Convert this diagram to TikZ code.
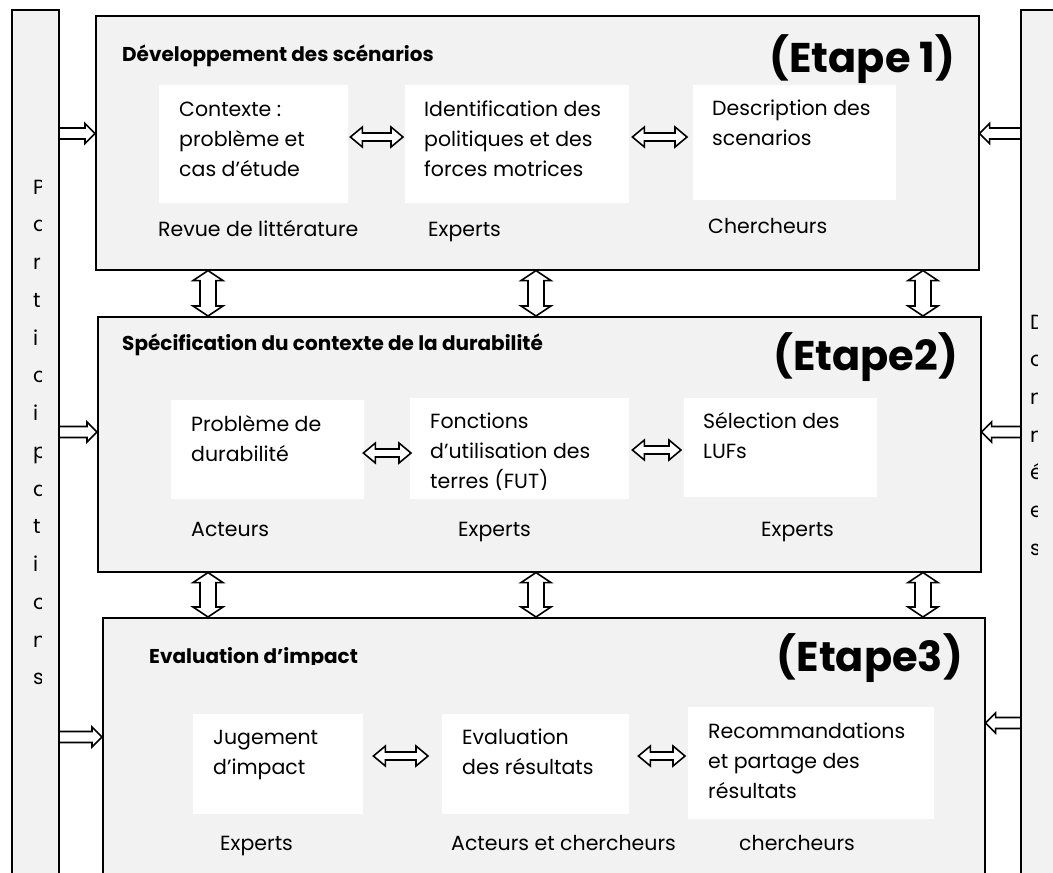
\documentclass[tikz,border=0pt]{standalone}
\usepackage{fontspec}
\setmainfont{Poppins}
\usetikzlibrary{calc}
\definecolor{panel}{HTML}{F2F2F2}

% several lines set one below the other; the first line carries the baseline
\newcommand\txtlines[1]{\vtop{\let\\\cr\halign{##\hfil\cr#1\crcr}}}

\begin{document}
\begin{tikzpicture}[x=1pt,y=-1pt,
  panelbox/.style={draw=black, line width=1.6pt, fill=panel, inner sep=0, anchor=north west},
  sidecol/.style={draw=black, line width=1.6pt, fill=panel, inner sep=0, anchor=north west},
  wbox/.style={fill=white, draw=none, inner sep=0, anchor=north west},
  body/.style={inner sep=0, anchor=base west, font=\fontsize{20.5}{30}\selectfont},
  title/.style={inner sep=0, anchor=base west, font=\fontsize{20}{24}\selectfont\bfseries},
  stage/.style={inner sep=0, anchor=base east, font=\fontsize{41.5}{44}\selectfont\bfseries},
  sidechar/.style={inner sep=0, anchor=base west, font=\fontsize{20.5}{24}\selectfont},
  blockline/.style={draw=black, line width=1.6pt, line join=miter},
  % hollow double arrow, left to right
  hdbl/.style={blockline, fill=white, to path={let \p1=(\tikztostart), \p2=(\tikztotarget) in
    (\x1,\y1) -- (\x1+12pt,\y1+10pt) -- (\x1+12pt,\y1+4pt) -- (\x2-12pt,\y1+4pt)
    -- (\x2-12pt,\y1+10pt) -- (\x2,\y1) -- (\x2-12pt,\y1-10pt) -- (\x2-12pt,\y1-4pt)
    -- (\x1+12pt,\y1-4pt) -- (\x1+12pt,\y1-10pt) -- cycle}},
  % hollow double arrow, top to bottom
  vdbl/.style={blockline, fill=white, to path={let \p1=(\tikztostart), \p2=(\tikztotarget) in
    (\x1,\y1) -- (\x1+15pt,\y1-10pt) -- (\x1+8pt,\y1-10pt) -- (\x1+8pt,\y2+10pt)
    -- (\x1+15pt,\y2+10pt) -- (\x1,\y2) -- (\x1-15pt,\y2+10pt) -- (\x1-8pt,\y2+10pt)
    -- (\x1-8pt,\y1-10pt) -- (\x1-15pt,\y1-10pt) -- cycle}},
  % hollow single arrow pointing right
  harrR/.style={blockline, to path={let \p1=(\tikztostart), \p2=(\tikztotarget) in
    (\x1,\y1+5.5pt) -- (\x2-10pt,\y1+5.5pt) -- (\x2-10pt,\y1+10pt) -- (\x2,\y1)
    -- (\x2-10pt,\y1-10pt) -- (\x2-10pt,\y1-5.5pt) -- (\x1,\y1-5.5pt)}},
  % hollow single arrow pointing left
  harrL/.style={blockline, to path={let \p1=(\tikztostart), \p2=(\tikztotarget) in
    (\x1,\y1+5.5pt) -- (\x2+10pt,\y1+5.5pt) -- (\x2+10pt,\y1+10pt) -- (\x2,\y1)
    -- (\x2+10pt,\y1-10pt) -- (\x2+10pt,\y1-5.5pt) -- (\x1,\y1-5.5pt)}}
]
\useasboundingbox (0,0) rectangle (1053,873);
\clip (0,0) rectangle (1053,873);
\fill[white] (0,0) rectangle (1053,873);

% side columns
\node[sidecol, minimum width=47pt, minimum height=900pt] (L) at (11,9) {};
\node[sidecol, minimum width=60pt, minimum height=900pt] (R) at (1020,9) {};

\begin{scope}
  \clip (11,9) rectangle (41,873);
  \foreach \ch [count=\i from 0] in {P,a,r,t,i,c,i,p,a,t,i,o,n,s}
    \node[sidechar] (pl\i) at (33,194+37.75*\i) {\ch};
\end{scope}
\begin{scope}
  \clip (1020,9) rectangle (1037.5,873);
  \foreach \ch [count=\i from 0] in {D,o,n,n,é,e,s}
    \node[sidechar] (dr\i) at (1030,329+37.7*\i) {\ch};
\end{scope}

% stage panels
\node[panelbox, minimum width=883pt, minimum height=254pt] (s1) at (95,15) {};
\node[panelbox, minimum width=883pt, minimum height=255pt] (s2) at (97,316) {};
\node[panelbox, minimum width=882pt, minimum height=320pt] (s3) at (102,617) {};

% stage 1
\node[title] (t1) at (122,61) {Développement des scénarios};
\node[stage] (e1) at (955,72) {(Etape 1)};
\node[wbox, minimum width=189pt, minimum height=118pt] (c11) at (159,85) {};
\node[wbox, minimum width=224pt, minimum height=118pt] (c12) at (405,85) {};
\node[wbox, minimum width=203pt, minimum height=115pt] (c13) at (693,85) {};
\node[body] (x11) at (179,116) {\txtlines{Contexte :\\problème et\\cas d’étude}};
\node[body] (x12) at (424,116) {\txtlines{Identification des\\politiques et des\\forces motrices}};
\node[body] (x13) at (712,115) {\txtlines{Description des\\scenarios}};
\node[body] (a11) at (158,236) {Revue de littérature};
\node[body] (a12) at (428,236) {Experts};
\node[body] (a13) at (708,233) {Chercheurs};

% stage 2
\node[title] (t2) at (122,350) {Spécification du contexte de la durabilité};
\node[stage] (e2) at (958,370) {(Etape2)};
\node[wbox, minimum width=193pt, minimum height=99pt] (c21) at (171,400) {};
\node[wbox, minimum width=219pt, minimum height=101pt] (c22) at (410,398) {};
\node[wbox, minimum width=193pt, minimum height=99pt] (c23) at (684,398) {};
\node[body] (x21) at (191,431) {\txtlines{Problème de\\durabilité}};
\begin{scope}
  \clip (405,380) rectangle (640,489);
  \node[body] (x22) at (430,428) {\txtlines{Fonctions\\d’utilisation des\\terres (FUT)}};
\end{scope}
\node[body] (x23) at (703,428) {\txtlines{Sélection des\\LUFs}};
\node[body] (a21) at (191,536) {Acteurs};
\node[body] (a22) at (458,536) {Experts};
\node[body] (a23) at (761,536) {Experts};

% stage 3
\begin{scope}
  \clip (120,630) rectangle (500,664);
  \node[title] (t3) at (149,663) {Evaluation d’impact};
\end{scope}
\node[stage] (e3) at (963,671) {(Etape3)};
\node[wbox, minimum width=170pt, minimum height=100pt] (c31) at (193,714) {};
\node[wbox, minimum width=187pt, minimum height=100pt] (c32) at (442,714) {};
\node[wbox, minimum width=246pt, minimum height=112pt] (c33) at (688,707) {};
\node[body] (x31) at (213,744) {\txtlines{Jugement\\d’impact}};
\node[body] (x32) at (462,744) {\txtlines{Evaluation\\des résultats}};
\node[body] (x33) at (708,738) {\txtlines{Recommandations\\et partage des\\résultats}};
\node[body] (a31) at (220,850) {Experts};
\node[body] (a32) at (451,850) {Acteurs et chercheurs};
\node[body] (a33) at (739,850) {chercheurs};

% levels of the connectors
\coordinate (r1) at (0,137);
\coordinate (r2a) at (0,453);
\coordinate (r2b) at (0,450);
\coordinate (r3) at (0,756);
\coordinate (v1) at (208,0);
\coordinate (v2) at (536,0);
\coordinate (v3) at (923,0);
\coordinate (lA) at (0,133.5);
\coordinate (lB) at (0,432);
\coordinate (lC) at (0,737);
\coordinate (rC) at (0,723);

% arrows inside the stages
\draw[hdbl] ($(c11.east |- r1)+(2,0)$) to ($(c12.west |- r1)+(-2,0)$);
\draw[hdbl] ($(c12.east |- r1)+(3,0)$) to ($(c13.west |- r1)+(-6,0)$);
\draw[hdbl] ($(c21.east |- r2a)+(-1,0)$) to ($(c22.west |- r2a)+(1,0)$);
\draw[hdbl] ($(c22.east |- r2b)+(3,0)$) to ($(c23.west |- r2b)+(-3,0)$);
\draw[hdbl] ($(c31.east |- r3)+(10,0)$) to ($(c32.west |- r3)+(-14,0)$);
\draw[hdbl] ($(c32.east |- r3)+(9,0)$) to ($(c33.west |- r3)+(-3,0)$);

% arrows between the stages
\foreach \v in {v1,v2,v3}{
  \draw[vdbl] (s1.south -| \v) to (s2.north -| \v);
  \draw[vdbl] (s2.south -| \v) to (s3.north -| \v);
}

% arrows from the side columns
\draw[harrR] (L.east |- lA) to (s1.west |- lA);
\draw[harrR] (L.east |- lB) to (s2.west |- lB);
\draw[harrR] (L.east |- lC) to (s3.west |- lC);
\draw[harrL] (R.west |- lA) to (s1.east |- lA);
\draw[harrL] (R.west |- lB) to (s2.east |- lB);
\draw[harrL] (R.west |- rC) to (s3.east |- rC);
\end{tikzpicture}
\end{document}
